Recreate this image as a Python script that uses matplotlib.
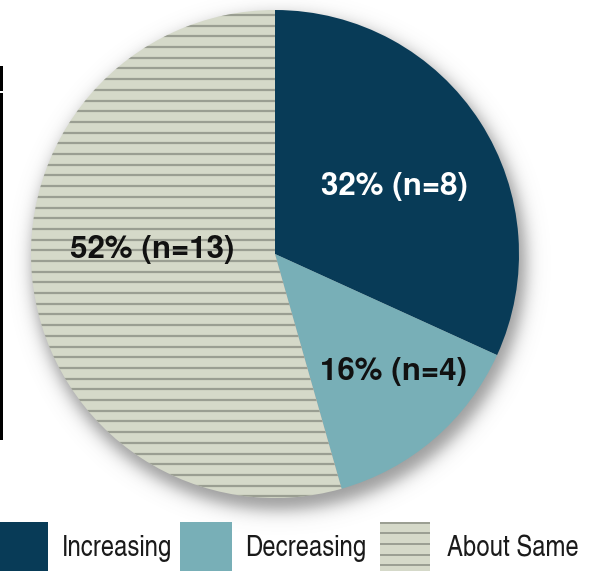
import numpy as np
import matplotlib
matplotlib.use("Agg")
import matplotlib.pyplot as plt
from matplotlib.patches import Rectangle

# ---- data ----
categories = ["Increasing", "Decreasing", "About Same"]
counts = [8, 4, 13]
percent_labels = ["32%", "16%", "52%"]
# wedge shares as drawn in the reference picture (percent)
wedge_shares = [31.8, 13.8, 54.4]

colors = ["#083b57", "#78afb7", "#d5d9c9"]
stripe_color = "#9a9e92"

W, H = 590, 571
fig = plt.figure(figsize=(W / 100, H / 100), dpi=100)
ax = fig.add_axes([0, 0, 1, 1])

cx, cy_img, R = 275, 254, 244
cy = H - cy_img

# soft shadow
yy, xx = np.mgrid[0:H, 0:W]
d = np.hypot(xx + 0.5 - (cx + 4), yy + 0.5 - (cy_img + 9))
a = 0.6 * 0.5 * (1 - np.tanh((d - (R + 3)) / 10.0))
rgba = np.zeros((H, W, 4))
rgba[..., :3] = 0.35
rgba[..., 3] = a
ax.imshow(rgba, extent=(0, W, 0, H), origin="upper", zorder=0, interpolation="bilinear")

wedges, _ = ax.pie(wedge_shares, colors=colors, startangle=90, counterclock=False,
                   center=(cx, cy), radius=R, wedgeprops=dict(linewidth=0))
for w in wedges:
    w.set_zorder(2)
ax.set_xlim(0, W)
ax.set_ylim(0, H)
ax.set_aspect("equal")
ax.axis("off")

# stripes in "About Same" wedge
ys_img = np.arange(4.2, 520, 10.7)
lines = ax.hlines(H - ys_img, 0, W, colors=stripe_color, linewidth=1.6, zorder=3)
lines.set_clip_path(wedges[2])

label_font = ["TeX Gyre Heros", "Liberation Sans", "DejaVu Sans"]
legend_font = ["TeX Gyre Heros Cn", "Roboto Condensed", "DejaVu Sans"]
labels = [f"{p} (n={n})" for p, n in zip(percent_labels, counts)]
label_pos = [(394, 187), (394, 372), (152, 250)]
label_col = ["white", "#111111", "#111111"]
for txt, (x, y), c in zip(labels, label_pos, label_col):
    ax.text(x, H - y, txt, ha="center", va="center", fontsize=22.5, fontweight="bold",
            color=c, family=label_font, zorder=5)

# legend
box_x = [0, 180, 380]
box_w = [48, 52, 50]
text_x = [62, 245, 447]
for i, cat in enumerate(categories):
    ax.add_patch(Rectangle((box_x[i], 0), box_w[i], H - 522, facecolor=colors[i],
                           edgecolor="none", zorder=4))
    ax.text(text_x[i], H - 549, cat, ha="left", va="center", fontsize=21,
            family=legend_font, color="#1a1a1a", zorder=5)
for yl in [522.5, 533.2, 543.9, 554.6, 565.3]:
    ax.plot([box_x[2], box_x[2] + box_w[2]], [H - yl, H - yl], color=stripe_color,
            linewidth=1.4, zorder=5, solid_capstyle="butt")

# black edge artifact at left
ax.add_patch(Rectangle((0, H - 91), 2.5, 25, facecolor="black", edgecolor="none", zorder=6))
ax.add_patch(Rectangle((0, H - 440), 2.5, 347, facecolor="black", edgecolor="none", zorder=6))

fig.savefig("out.png", dpi=100)
